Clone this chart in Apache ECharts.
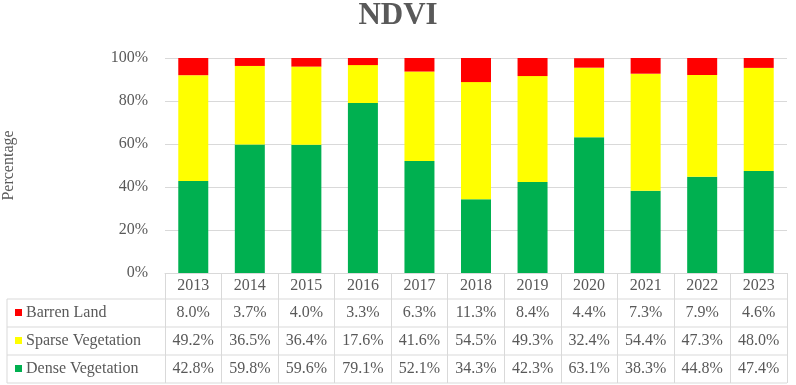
<!DOCTYPE html>
<html>
<head>
<meta charset="utf-8">
<script src="https://cdn.jsdelivr.net/npm/echarts@6/dist/echarts.min.js"></script>
<style>
  html, body { margin: 0; padding: 0; background: #fff; }
  #chart { width: 796px; height: 385px; }
</style>
</head>
<body>
<div id="chart"></div>
<script>
  // 数据
  var years = ['2013', '2014', '2015', '2016', '2017', '2018', '2019', '2020', '2021', '2022', '2023'];
  var barren = [8.0, 3.7, 4.0, 3.3, 6.3, 11.3, 8.4, 4.4, 7.3, 7.9, 4.6];
  var sparse = [49.2, 36.5, 36.4, 17.6, 41.6, 54.5, 49.3, 32.4, 54.4, 47.3, 48.0];
  var dense = [42.8, 59.8, 59.6, 79.1, 52.1, 34.3, 42.3, 63.1, 38.3, 44.8, 47.4];
  var yTicks = [0, 20, 40, 60, 80, 100];
  var seriesNames = ['Barren Land', 'Sparse Vegetation', 'Dense Vegetation'];
  var seriesColors = ['#FF0000', '#FFFF00', '#00B050'];

  var font = '"Liberation Serif", "Times New Roman", serif';
  var textColor = '#595959';
  var lineColor = '#d9d9d9';

  var chart = echarts.init(document.getElementById('chart'));

  function pct(arr) {
    return arr.map(function (v) { return v.toFixed(1) + '%'; });
  }

  // 表格里每一行用一个 x 轴画文字
  function rowAxis(labels, margin) {
    return {
      type: 'category',
      data: labels,
      position: 'bottom',
      axisLine: { show: false },
      axisTick: { show: false },
      axisLabel: {
        margin: margin,
        verticalAlign: 'middle',
        fontFamily: font,
        fontSize: 16,
        color: textColor,
        interval: 0
      }
    };
  }

  var gridLeft = 165, gridRight = 9, gridTop = 58, gridBottom = 112;
  var tableLeft = 7;
  var rowLines = [299, 327, 355, 383];
  var rowCenters = [313, 341, 369];

  var graphics = rowLines.map(function (y) {
    return {
      type: 'line',
      shape: { x1: tableLeft, y1: y, x2: 796 - gridRight, y2: y },
      style: { stroke: lineColor, lineWidth: 1 }
    };
  });
  graphics.push({
    type: 'line',
    shape: { x1: tableLeft, y1: rowLines[0], x2: tableLeft, y2: rowLines[3] },
    style: { stroke: lineColor, lineWidth: 1 }
  });
  // 表格左侧的图例
  seriesNames.forEach(function (name, i) {
    graphics.push({
      type: 'rect',
      shape: { x: 15, y: rowCenters[i] - 4, width: 7, height: 7 },
      style: { fill: seriesColors[i] }
    });
    graphics.push({
      type: 'text',
      x: 26,
      y: rowCenters[i],
      style: {
        text: name,
        font: '16px ' + font,
        fill: textColor,
        verticalAlign: 'middle'
      }
    });
  });

  var option = {
    animation: false,
    title: {
      text: 'NDVI',
      left: 393,
      top: -5,
      textAlign: 'center',
      textStyle: { fontFamily: font, fontWeight: 'bold', fontSize: 31, color: textColor }
    },
    grid: {
      left: gridLeft, right: gridRight, top: gridTop, bottom: gridBottom,
      outerBoundsMode: 'none'
    },
    xAxis: [
      {
        type: 'category',
        data: years,
        axisLine: { show: true, lineStyle: { color: lineColor } },
        axisTick: { show: true, length: 110, lineStyle: { color: lineColor } },
        axisLabel: {
          margin: 13,
          verticalAlign: 'middle',
          fontFamily: font,
          fontSize: 16,
          color: textColor,
          interval: 0
        }
      },
      rowAxis(pct(barren), 40),
      rowAxis(pct(sparse), 68),
      rowAxis(pct(dense), 96)
    ],
    yAxis: {
      type: 'value',
      min: yTicks[0],
      max: yTicks[yTicks.length - 1],
      interval: 20,
      name: 'Percentage',
      nameLocation: 'middle',
      nameGap: 148,
      nameTextStyle: { fontFamily: font, fontSize: 16, color: textColor },
      axisLine: { show: false },
      axisTick: { show: false },
      axisLabel: {
        formatter: '{value}%',
        margin: 17,
        fontFamily: font,
        fontSize: 16,
        color: textColor
      },
      splitLine: { lineStyle: { color: lineColor } }
    },
    series: [
      {
        name: seriesNames[2],
        type: 'bar',
        stack: 'total',
        barWidth: 30,
        itemStyle: { color: seriesColors[2] },
        data: dense
      },
      {
        name: seriesNames[1],
        type: 'bar',
        stack: 'total',
        barWidth: 30,
        itemStyle: { color: seriesColors[1] },
        data: sparse
      },
      {
        name: seriesNames[0],
        type: 'bar',
        stack: 'total',
        barWidth: 30,
        itemStyle: { color: seriesColors[0] },
        data: barren
      }
    ],
    graphic: graphics
  };

  chart.setOption(option);
  window.addEventListener('resize', function () {
    chart.resize();
  });
</script>
</body>
</html>
